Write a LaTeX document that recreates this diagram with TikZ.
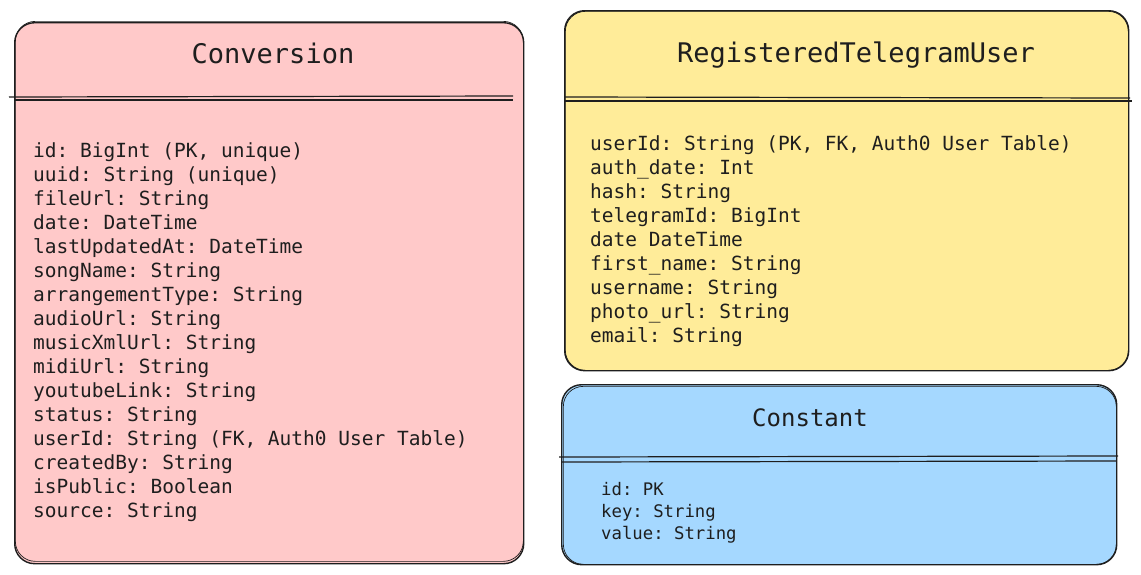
\documentclass[tikz,border=0pt]{standalone}
\usepackage{fontspec}
\setmonofont{DejaVu Sans Mono}
\usetikzlibrary{positioning}

\definecolor{convfill}{HTML}{FFC9C9}
\definecolor{userfill}{HTML}{FFEC99}
\definecolor{constfill}{HTML}{A5D8FF}
\definecolor{ink}{HTML}{1E1E1E}

\tikzset{
  table/.style={draw=ink, line width=1.4pt, rounded corners=20pt, anchor=north west, inner sep=0pt},
  sketch/.style={draw=ink, line width=0.7pt, rounded corners=20pt, anchor=north west, inner sep=0pt},
  sepline/.style={draw=ink, line width=1.2pt},
  tabletitle/.style={font=\fontsize{27}{32}\selectfont\ttfamily, text=ink, anchor=base},
  % base anchor of a multi-line node sits on its last line
  fieldlist/.style={font=\fontsize{19.5}{24}\selectfont\ttfamily, text=ink, align=left, anchor=base west, inner sep=0pt},
}

\begin{document}
\begin{tikzpicture}[x=1pt, y=-1pt]
  \useasboundingbox (0,0) rectangle (1141,574);

  % Conversion
  \node[table, fill=convfill, minimum width=509pt, minimum height=541pt] (conv) at (14,22) {};
  \node[sketch, minimum width=508pt, minimum height=540pt] (convb) at (15,21) {};
  \node[tabletitle] (convtitle) at (273,63) {Conversion};
  \draw[sepline] (9,97) -- (513,96);
  \draw[sepline] (14,100) -- (513,100);
  \node[fieldlist] (convfields) at (33,517) {%
    id: BigInt (PK, unique)\\
    uuid: String (unique)\\
    fileUrl: String\\
    date: DateTime\\
    lastUpdatedAt: DateTime\\
    songName: String\\
    arrangementType: String\\
    audioUrl: String\\
    musicXmlUrl: String\\
    midiUrl: String\\
    youtubeLink: String\\
    status: String\\
    userId: String (FK, Auth0 User Table)\\
    createdBy: String\\
    isPublic: Boolean\\
    source: String};

  % RegisteredTelegramUser
  \node[table, fill=userfill, minimum width=564pt, minimum height=360pt] (user) at (564,10) {};
  \node[sketch, minimum width=563pt, minimum height=359pt] (userb) at (565,11) {};
  \node[tabletitle] (usertitle) at (856,62) {RegisteredTelegramUser};
  \draw[sepline] (564,97) -- (1130,98);
  \draw[sepline] (564,101) -- (1132,101);
  \node[fieldlist] (userfields) at (590,342) {%
    userId: String (PK, FK, Auth0 User Table)\\
    auth\_date: Int\\
    hash: String\\
    telegramId: BigInt\\
    date DateTime\\
    first\_name: String\\
    username: String\\
    photo\_url: String\\
    email: String};

  % Constant
  \node[table, fill=constfill, minimum width=555pt, minimum height=180pt] (const) at (561,384) {};
  \node[sketch, minimum width=553pt, minimum height=178pt] (constb) at (563,386) {};
  \node[tabletitle, font=\fontsize{24}{28}\selectfont\ttfamily] (consttitle) at (810,426) {Constant};
  \draw[sepline] (559,457) -- (1118,456);
  \draw[sepline] (561,462) -- (1116,461);
  \node[fieldlist, font=\fontsize{17.3}{22}\selectfont\ttfamily] (constfields) at (601,539) {%
    id: PK\\
    key: String\\
    value: String};
\end{tikzpicture}
\end{document}
